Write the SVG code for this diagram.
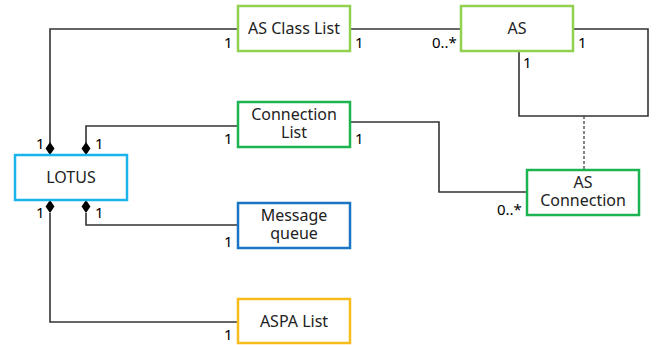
<svg xmlns="http://www.w3.org/2000/svg" width="658" height="345" viewBox="0 0 658 345">
  <style>
    .box { fill: #ffffff; stroke-width: 2.5; }
    .label { font-family: "Noto Sans", "Liberation Sans", sans-serif; font-size: 16px; fill: #222; text-anchor: middle; }
    .mult { font-family: "Noto Sans", "Liberation Sans", sans-serif; font-size: 15px; fill: #000; }
    .line { fill: none; stroke: #333; stroke-width: 1.6; }
    .dash { fill: none; stroke: #444; stroke-width: 1.3; stroke-dasharray: 3 2; }
    .dia { fill: #000; }
  </style>
  <rect width="658" height="345" fill="#ffffff"/>

  <g id="connectors">
    <!-- LOTUS to AS Class List -->
    <polyline class="line" points="50,143 50,29 237,29"/>
    <!-- LOTUS to Connection List -->
    <polyline class="line" points="86,143 86,126 237,126"/>
    <!-- LOTUS to Message queue -->
    <polyline class="line" points="86,213 86,225 237,225"/>
    <!-- LOTUS to ASPA List -->
    <polyline class="line" points="50,213 50,322 237,322"/>
    <!-- composition diamonds -->
    <polygon class="dia" points="50,142 54.5,148.5 50,155 45.5,148.5"/>
    <polygon class="dia" points="86,142 90.5,148.5 86,155 81.5,148.5"/>
    <polygon class="dia" points="50,200 54.5,206.5 50,213 45.5,206.5"/>
    <polygon class="dia" points="86,200 90.5,206.5 86,213 81.5,206.5"/>
    <!-- AS Class List to AS -->
    <line class="line" x1="350" y1="29" x2="460" y2="29"/>
    <!-- AS self association -->
    <polyline class="line" points="573,29 648,29 648,116 519,116 519,51"/>
    <!-- association class link -->
    <line class="dash" x1="584" y1="116" x2="584" y2="170"/>
    <!-- Connection List to AS Connection -->
    <polyline class="line" points="350,122 439,122 439,192 527,192"/>

    <!-- multiplicities -->
    <text class="mult" x="224" y="48">1</text>
    <text class="mult" x="355" y="48">1</text>
    <text class="mult" x="432" y="48">0..*</text>
    <text class="mult" x="578" y="48">1</text>
    <text class="mult" x="523" y="68">1</text>
    <text class="mult" x="224" y="144">1</text>
    <text class="mult" x="355" y="144">1</text>
    <text class="mult" x="497" y="215">0..*</text>
    <text class="mult" x="36" y="149">1</text>
    <text class="mult" x="95" y="149">1</text>
    <text class="mult" x="36" y="218">1</text>
    <text class="mult" x="95" y="218">1</text>
    <text class="mult" x="224" y="247">1</text>
    <text class="mult" x="224" y="340">1</text>
  </g>

  <g id="lotus">
    <rect class="box" x="15" y="155" width="112" height="45" stroke="#1ab4ea"/>
    <text class="label" x="71" y="183">LOTUS</text>
  </g>
  <g id="as-class-list">
    <rect class="box" x="238" y="6" width="112" height="45" stroke="#92d050"/>
    <text class="label" x="294" y="34">AS Class List</text>
  </g>
  <g id="as">
    <rect class="box" x="461" y="6" width="112" height="45" stroke="#92d050"/>
    <text class="label" x="517" y="34">AS</text>
  </g>
  <g id="connection-list">
    <rect class="box" x="238" y="102" width="112" height="45" stroke="#1db350"/>
    <text class="label" x="294" y="120">Connection<tspan x="294" dy="18">List</tspan></text>
  </g>
  <g id="as-connection">
    <rect class="box" x="527" y="170" width="112" height="45" stroke="#1db350"/>
    <text class="label" x="583" y="188">AS<tspan x="583" dy="18">Connection</tspan></text>
  </g>
  <g id="message-queue">
    <rect class="box" x="238" y="203" width="112" height="45" stroke="#1a75c4"/>
    <text class="label" x="294" y="221">Message<tspan x="294" dy="18">queue</tspan></text>
  </g>
  <g id="aspa-list">
    <rect class="box" x="238" y="299" width="112" height="44" stroke="#f5bc1c"/>
    <text class="label" x="294" y="327">ASPA List</text>
  </g>
</svg>
